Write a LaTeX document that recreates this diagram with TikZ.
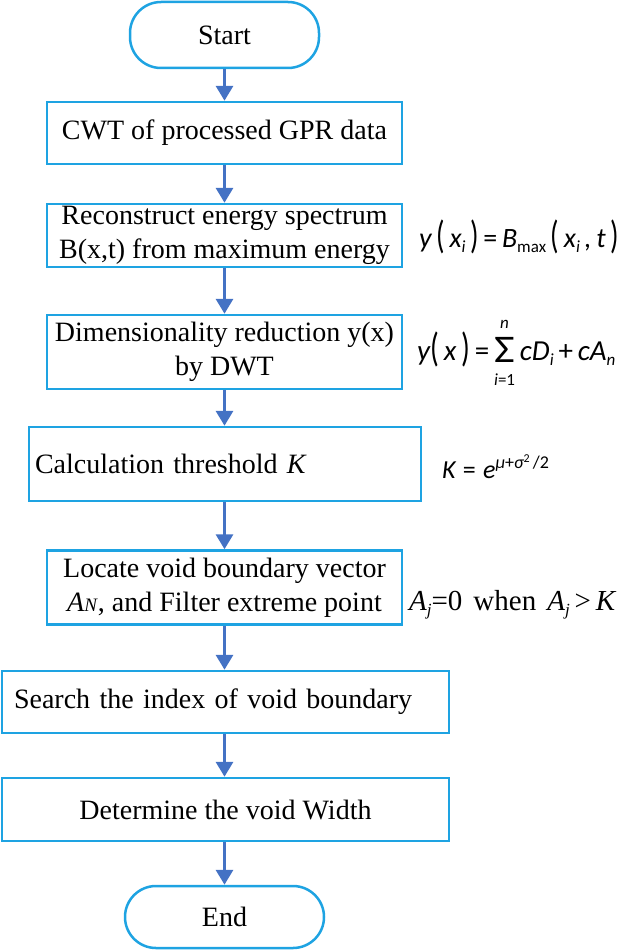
\documentclass[tikz,border=0pt]{standalone}
\usepackage{fontspec}
\usepackage{graphicx}
\usetikzlibrary{arrows.meta}
\setmainfont{Liberation Serif}
\newfontfamily\carl{Carlito}
\definecolor{boxblue}{RGB}{30,163,226}
\definecolor{arrblue}{RGB}{68,114,196}
\newcommand\bigtxt{\fontsize{28}{34}\selectfont}
\newcommand\lpar{\raisebox{-1pt}{\scalebox{1}[1.4]{\upshape(}}}
\newcommand\rpar{\raisebox{-1pt}{\scalebox{1}[1.4]{\upshape)}}}
\newcommand\subsc[1]{\raisebox{-5pt}{\fontsize{17}{17}\selectfont #1}}
\newcommand\limtxt[1]{\mbox{\fontsize{17}{17}\selectfont\carl #1}}
\begin{document}
\begin{tikzpicture}[x=1pt,y=-1pt,
  box/.style={draw=boxblue, line width=2.5pt, inner sep=0pt, align=center, font=\bigtxt},
  term/.style={box, rounded corners=31pt},
  arr/.style={draw=arrblue, line width=3.3pt, -{Triangle[width=17pt,length=15pt]}},
  formula/.style={anchor=west, inner sep=0pt, font=\bigtxt}
]
\useasboundingbox (0,0) rectangle (624,950);

\node[term, minimum width=189pt, minimum height=66pt] (start) at (224.5,35) {Start};
\node[box, minimum width=355pt, minimum height=62pt] (cwt) at (224.5,133) {CWT of processed GPR data};
\node[box, minimum width=355pt, minimum height=63pt] (rec) at (224.5,235.5) {Reconstruct energy spectrum\\B(x,t) from maximum energy};
\node[box, minimum width=355pt, minimum height=74pt] (dim) at (224.5,352) {Dimensionality reduction y(x)\\by DWT};
\node[box, minimum width=392pt, minimum height=74pt, text width=380pt, inner xsep=6pt, align=left] (calc) at (225,464) {Calculation threshold \textit{K}};
\node[box, minimum width=355pt, minimum height=74pt] (loc) at (224.5,587.5) {Locate void boundary vector\\\textit{A}{\fontsize{19}{19}\selectfont\textit{N}}, and Filter extreme point};
\node[box, minimum width=447pt, minimum height=62pt, text width=423pt, inner xsep=12pt, align=left] (search) at (225.5,702) {Search the index of void boundary};
\node[box, minimum width=447pt, minimum height=63pt] (det) at (225.5,809.5) {Determine the void Width};
\node[term, minimum width=199pt, minimum height=62pt] (end) at (224.5,917) {End};

\draw[arr] (start.south) -- (cwt.north);
\draw[arr] (cwt.south) -- (rec.north);
\draw[arr] (rec.south) -- (dim.north);
\draw[arr] (dim.south) -- (calc.north -| dim.south);
\draw[arr] (calc.south -| dim.south) -- (loc.north);
\draw[arr] (loc.south) -- (search.north -| loc.south);
\draw[arr] (search.south -| loc.south) -- (det.north -| loc.south);
\draw[arr] (det.south -| loc.south) -- (end.north);

\node[formula] (f1) at (419,237) {\carl\itshape y\,\lpar\,x\subsc{i}\,\rpar\,\upshape=\,\itshape B\subsc{\upshape max}\,\lpar\,x\subsc{i}\,,\,t\,\rpar};
\node[formula, font=\fontsize{29}{34}\selectfont] (f2) at (417,353) {\carl\itshape y\lpar\,x\,\rpar\upshape\,=\,$\mathop{\mbox{\raisebox{-2pt}{\scalebox{1.55}[1.35]{\carl\upshape Σ}}}}\limits_{\limtxt{\rule{0pt}{21pt}\itshape i\upshape=1}}^{\limtxt{\itshape n}\rule[-8pt]{0pt}{8pt}}$\,\itshape cD\subsc{i}\,\upshape+\,\itshape cA\subsc{n}};
\node[formula, font=\fontsize{26}{30}\selectfont] (f3) at (442,467) {\carl\itshape K\;\upshape=\;\itshape e\raisebox{10pt}{\fontsize{18}{18}\selectfont μ\upshape+\itshape σ\raisebox{6pt}{\fontsize{12}{12}\selectfont\upshape 2}\upshape\,/2}};
\node[formula, font=\fontsize{29}{32}\selectfont] (f4) at (409,605) {\itshape A\subsc{j}\upshape=0\hspace{11pt}when\hspace{11pt}\itshape A\subsc{j}\,\upshape{>}\,\itshape K};
\end{tikzpicture}
\end{document}
